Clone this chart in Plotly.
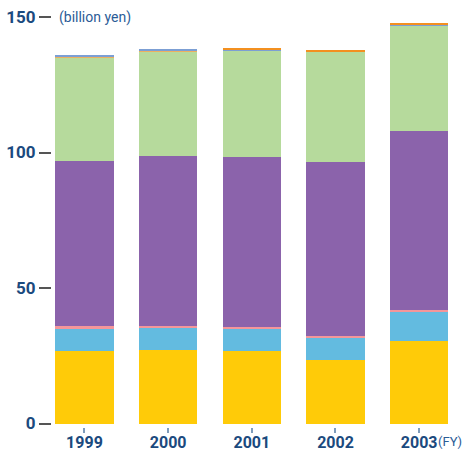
import plotly.graph_objects as go

years = ["1999", "2000", "2001", "2002", "2003"]
yellow = [26.8, 27.2, 26.8, 23.4, 30.4]
blue = [8.1, 8.2, 8.1, 8.3, 10.7]
pink = [1.1, 0.6, 0.7, 0.6, 0.9]
purple = [60.9, 62.7, 62.7, 64.2, 65.9]
green = [38.3, 38.6, 39.3, 40.5, 38.8]
tan = [0.3, 0.3, 0.0, 0.0, 0.0]
thin_blue = [0.4, 0.4, 0.4, 0.0, 0.4]
orange = [0.0, 0.0, 0.4, 1.0, 0.8]

y_ticks = [0, 50, 100, 150]

series = [
    (yellow, "#FFCB08"),
    (blue, "#63BBE0"),
    (pink, "#F4969A"),
    (purple, "#8B63AB"),
    (green, "#B6DA9C"),
    (tan, "#EDB060"),
    (thin_blue, "#7C9FD4"),
    (orange, "#F39020"),
]

fig = go.Figure()
for vals, col in series:
    fig.add_trace(go.Bar(x=years, y=vals, marker=dict(color=col, line=dict(width=0)),
                         showlegend=False, hoverinfo="skip"))

fam = "Roboto, sans-serif"

fig.update_layout(
    barmode="stack",
    bargap=0.3,
    width=464, height=451,
    margin=dict(l=52, r=3, t=10, b=24),
    plot_bgcolor="white", paper_bgcolor="white",
    xaxis=dict(range=[-0.388, 4.5], showgrid=False, zeroline=False, showline=False,
               automargin=False,
               ticks="outside", ticklen=5, tickwidth=1.5, tickcolor="#7F9CBB",
               ticklabelstandoff=-4,
               tickfont=dict(family=fam, size=16, color="#1B4A7E", weight="bold")),
    yaxis=dict(range=[-1.29, 152.6], showgrid=False, zeroline=False, showline=False,
               automargin=False,
               tickvals=y_ticks, ticks="outside", ticklen=12, tickwidth=1.5, tickcolor="#555555",
               tickfont=dict(family=fam, size=17, color="#1B4A7E", weight="bold")),
    annotations=[
        dict(text="(billion yen)", xref="paper", yref="y", x=0.012, y=150, xanchor="left",
             yanchor="middle", showarrow=False,
             font=dict(family=fam, size=14, color="#2B5C97")),
        dict(text="(FY)", x=1.0073, xref="paper", y=0, yref="paper", xanchor="right",
             yanchor="middle", showarrow=False,
             font=dict(family=fam, size=13, color="#2B5C97")),
    ],
)
plot_h = 451 - 10 - 24
fig.layout.annotations[1].y = (451 - 24 - 441) / plot_h

fig.write_html("out.html")
